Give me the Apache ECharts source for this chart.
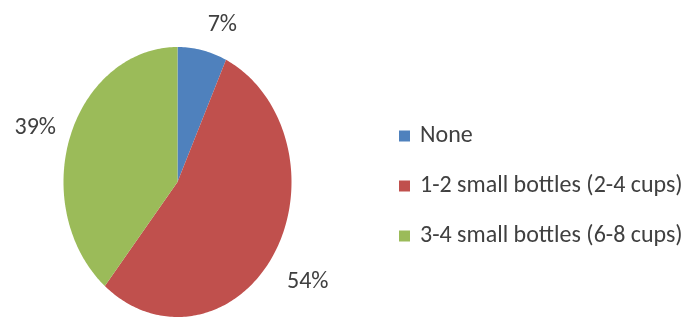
<!DOCTYPE html>
<html><head><meta charset="utf-8">
<script src="https://cdn.jsdelivr.net/npm/echarts@6/dist/echarts.min.js"></script>
<style>html,body{margin:0;padding:0;background:#fff}#chart{width:696px;height:322px}</style>
</head><body><div id="chart"></div>
<script>
// Daily water intake (share of respondents)
const categories = ['None', '1-2 small bottles (2-4 cups)', '3-4 small bottles (6-8 cups)'];
const shares = [7, 54, 39];
const sliceColors = ['#4F81BD', '#C0504D', '#9BBB59'];

// Layout of the oval pie
const CX = 177.5, CY = 182, RX = 114, RY = 135;
const labelNudge = [[20, -25], [34, 28], [-35, -8]];
const FONT_FAMILY = "Carlito, 'Liberation Sans Narrow', 'Liberation Sans', sans-serif";
const TEXT_COLOR = '#404040';
const FONT_SIZE = 24;

const total = shares.reduce((a, b) => a + b, 0);

function sliceAngles(i) {
  let s = 0;
  for (let k = 0; k < i; k++) s += shares[k];
  return [s / total * 2 * Math.PI, (s + shares[i]) / total * 2 * Math.PI];
}
function ellipsePoint(a) {
  return [CX + RX * Math.sin(a), CY - RY * Math.cos(a)];
}

function makeSeries(i) {
  return {
    type: 'custom',
    name: categories[i],
    coordinateSystem: 'none',
    color: sliceColors[i],
    data: [[i, shares[i]]],
    renderItem(params, api) {
      const idx = api.value(0);
      const v = api.value(1);
      const [a0, a1] = sliceAngles(idx);
      const pts = [[CX, CY]];
      const n = Math.max(2, Math.ceil((a1 - a0) / (Math.PI / 180)));
      for (let j = 0; j <= n; j++) pts.push(ellipsePoint(a0 + (a1 - a0) * j / n));
      const e = ellipsePoint((a0 + a1) / 2);
      return {
        type: 'group',
        children: [
          { type: 'polygon', shape: { points: pts }, style: { fill: sliceColors[idx] } },
          {
            type: 'text',
            x: e[0] + labelNudge[idx][0],
            y: e[1] + labelNudge[idx][1],
            style: {
              text: v + '%', align: 'center', verticalAlign: 'middle',
              fill: TEXT_COLOR, fontSize: FONT_SIZE, fontFamily: FONT_FAMILY
            }
          }
        ]
      };
    }
  };
}

const chart = echarts.init(document.getElementById('chart'));
chart.setOption({
  animation: false,
  backgroundColor: '#fff',
  legend: {
    orient: 'vertical',
    left: 394,
    top: 118,
    icon: 'rect',
    itemWidth: 11,
    itemHeight: 11,
    itemGap: 24,
    selectedMode: false,
    data: categories,
    textStyle: { color: TEXT_COLOR, fontSize: FONT_SIZE, lineHeight: 26, fontFamily: FONT_FAMILY, padding: [0, 0, 0, 5] }
  },
  series: categories.map((_, i) => makeSeries(i))
});
</script></body></html>
